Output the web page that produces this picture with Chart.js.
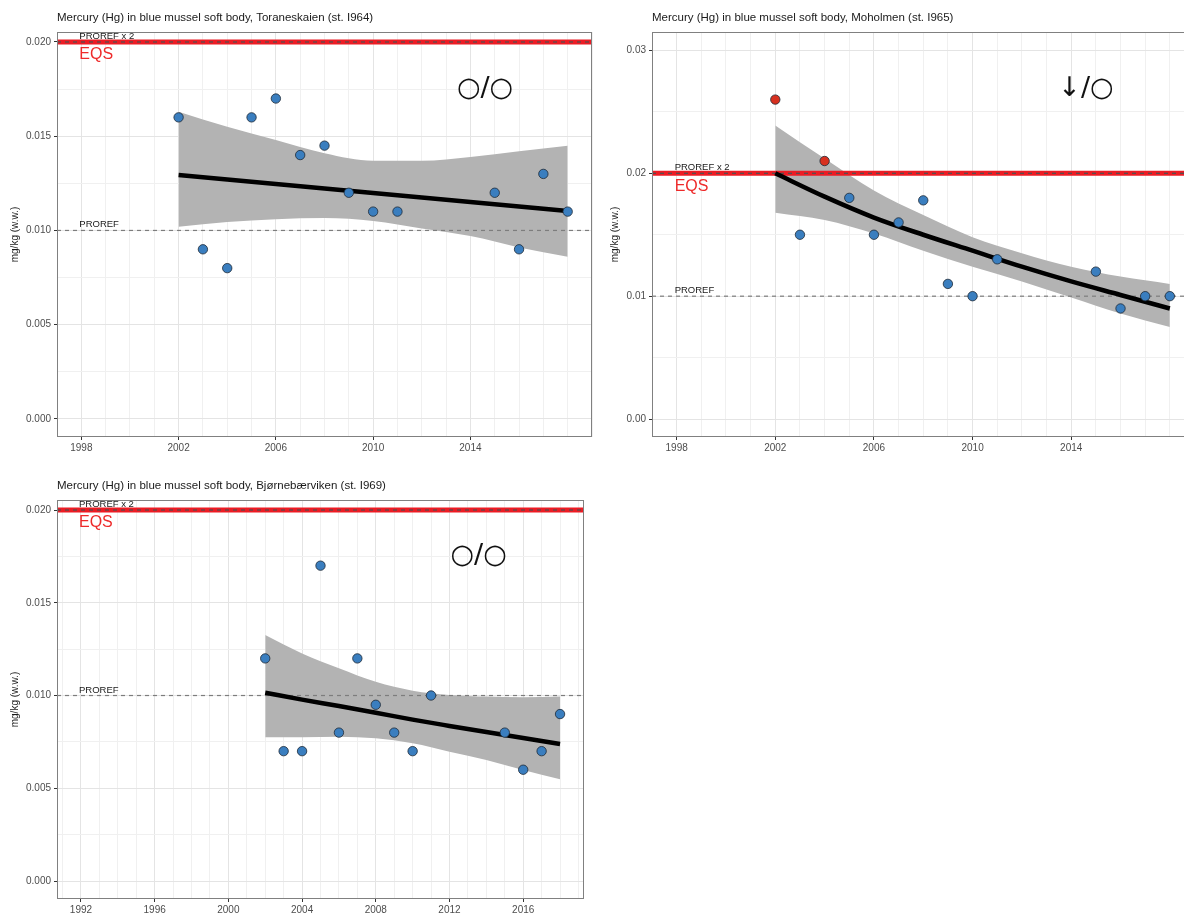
<!DOCTYPE html>
<html>
<head>
<meta charset="utf-8">
<script src="https://cdn.jsdelivr.net/npm/chart.js@4.4.0/dist/chart.umd.min.js"></script>
<style>
  html, body { margin: 0; padding: 0; background: #fff; overflow: hidden; width: 1184px; height: 913px; }
  canvas { position: absolute; display: block; }
</style>
</head>
<body>
<canvas id="toraneskaien" width="600" height="460" style="left:0;top:0"></canvas>
<canvas id="moholmen" width="600" height="460" style="left:600px;top:0"></canvas>
<canvas id="bjornebaerviken" width="600" height="460" style="left:0;top:468px"></canvas>
<script>
// ---- Toraneskaien (st. I964) ----
const yearsA = [2002, 2003, 2004, 2005, 2006, 2007, 2008, 2009, 2010, 2011, 2015, 2016, 2017, 2018];
const hgA    = [0.016, 0.009, 0.008, 0.016, 0.017, 0.014, 0.0145, 0.012, 0.011, 0.011, 0.012, 0.009, 0.013, 0.011];
const fitYearsA = [2002, 2004, 2006, 2008, 2010, 2012, 2014, 2016, 2018];
const fitA   = [0.01294, 0.0127, 0.01246, 0.01222, 0.01199, 0.01175, 0.01151, 0.01127, 0.01103];
const upperA = [0.0163, 0.0155, 0.0148, 0.0141, 0.0137, 0.0137, 0.0139, 0.0142, 0.0145];
const lowerA = [0.0102, 0.01045, 0.0106, 0.01066, 0.0105, 0.0101, 0.0097, 0.0091, 0.0086];
const xLabelsA = [1998, 2002, 2006, 2010, 2014];
const yLabelsA = [0, 0.005, 0.010, 0.015, 0.020];

// ---- Moholmen (st. I965) ----
const yearsB = [2002, 2003, 2004, 2005, 2006, 2007, 2008, 2009, 2010, 2011, 2015, 2016, 2017, 2018];
const hgB    = [0.026, 0.015, 0.021, 0.018, 0.015, 0.016, 0.0178, 0.011, 0.010, 0.013, 0.012, 0.009, 0.010, 0.010];
const fitYearsB = [2002, 2004, 2006, 2008, 2010, 2012, 2014, 2016, 2018];
const fitB   = [0.0200, 0.0181, 0.0164, 0.0150, 0.0137, 0.0124, 0.0112, 0.0101, 0.0090];
const upperB = [0.0239, 0.0212, 0.0186, 0.0166, 0.0148, 0.0135, 0.0124, 0.0116, 0.0110];
const lowerB = [0.0168, 0.0162, 0.0151, 0.0137, 0.0124, 0.0112, 0.0099, 0.0086, 0.0075];
const xLabelsB = [1998, 2002, 2006, 2010, 2014];
const yLabelsB = [0, 0.01, 0.02, 0.03];

// ---- Bjørnebærviken (st. I969) ----
const yearsC = [2002, 2003, 2004, 2005, 2006, 2007, 2008, 2009, 2010, 2011, 2015, 2016, 2017, 2018];
const hgC    = [0.012, 0.007, 0.007, 0.017, 0.008, 0.012, 0.0095, 0.008, 0.007, 0.010, 0.008, 0.006, 0.007, 0.009];
const fitYearsC = [2002, 2004, 2006, 2008, 2010, 2012, 2014, 2016, 2018];
const fitC   = [0.01015, 0.00978, 0.00943, 0.00907, 0.0087, 0.00836, 0.00803, 0.00771, 0.00739];
const upperC = [0.01326, 0.01227, 0.01147, 0.01074, 0.01026, 0.01003, 0.00994, 0.0099, 0.00994];
const lowerC = [0.00775, 0.00775, 0.00778, 0.00769, 0.00742, 0.00697, 0.00652, 0.00598, 0.00548];
const xLabelsC = [1992, 1996, 2000, 2004, 2008, 2012, 2016];
const yLabelsC = [0, 0.005, 0.010, 0.015, 0.020];

// Reference levels (mg/kg w.w.)
const PROREF = 0.010;
const EQS = 0.020;

const FONT = '"Liberation Sans", Arial, Helvetica, sans-serif';
Chart.defaults.font.family = FONT;
Chart.defaults.animation = false;

// Reference lines, labels, trend symbol, panel border and title
const panelDecor = {
  id: 'panelDecor',
  beforeDatasetDraw(chart, args, opts) {
    if (args.index !== 1) return;           // just below the trend line
    const { ctx, chartArea: a, scales: { y } } = chart;
    ctx.save();
    ctx.beginPath(); ctx.rect(a.left, a.top, a.width, a.height); ctx.clip();
    const yE = y.getPixelForValue(EQS);
    const yP2 = y.getPixelForValue(2 * PROREF);
    const yP = y.getPixelForValue(PROREF);
    // EQS: thick red
    ctx.strokeStyle = '#ec1c24'; ctx.lineWidth = 5;
    ctx.beginPath(); ctx.moveTo(a.left, yE); ctx.lineTo(a.right, yE); ctx.stroke();
    // PROREF x 2: dark dashed
    ctx.setLineDash([4, 4]); ctx.strokeStyle = '#505050'; ctx.lineWidth = 1.2;
    ctx.beginPath(); ctx.moveTo(a.left, yP2); ctx.lineTo(a.right, yP2); ctx.stroke();
    // PROREF: grey dashed
    ctx.strokeStyle = '#7d7d7d';
    ctx.beginPath(); ctx.moveTo(a.left, yP); ctx.lineTo(a.right, yP); ctx.stroke();
    ctx.restore();
  },
  afterDatasetsDraw(chart, args, opts) {
    const { ctx, chartArea: a, scales: { x, y } } = chart;
    ctx.save();
    ctx.beginPath(); ctx.rect(a.left, a.top, a.width, a.height); ctx.clip();
    const lx = x.getPixelForValue(opts.labelYear) - 2;
    ctx.textAlign = 'left';
    ctx.textBaseline = 'alphabetic';
    ctx.fillStyle = '#1a1a1a';
    ctx.font = '9.5px ' + FONT;
    ctx.fillText('PROREF x 2', lx, y.getPixelForValue(2 * PROREF) - 3);
    ctx.fillText('PROREF', lx, y.getPixelForValue(PROREF) - 3);
    ctx.fillStyle = '#ee2a2a';
    ctx.font = '16px ' + FONT;
    ctx.textBaseline = 'middle';
    ctx.fillText('EQS', lx, y.getPixelForValue(EQS) + 13);
    // trend symbol
    ctx.fillStyle = '#111';
    ctx.textAlign = 'center';
    ctx.font = '27px "DejaVu Sans", ' + FONT;
    ctx.fillText(opts.symbol, a.left + 0.8 * a.width, a.top + 0.14 * a.height);
    ctx.restore();
    // panel border
    ctx.save();
    ctx.strokeStyle = '#808080'; ctx.lineWidth = 1;
    ctx.strokeRect(a.left + 0.5, a.top + 0.5, a.width - 1, a.height - 1);
    // title
    ctx.fillStyle = '#1a1a1a';
    ctx.font = '11.5px ' + FONT;
    ctx.textAlign = 'left'; ctx.textBaseline = 'middle';
    ctx.fillText(opts.title, a.left, a.top - 14);
    ctx.restore();
  }
};

function toPoints(xs, ys) { return xs.map((v, i) => ({ x: v, y: ys[i] })); }

function makePanel(id, cfg) {
  const isLabX = v => cfg.xLabels.includes(v);
  const isLabY = v => cfg.yLabels.some(t => Math.abs(t - v) < 1e-9);
  new Chart(document.getElementById(id), {
    type: 'scatter',
    data: {
      datasets: [
        {
          label: 'Hg', data: toPoints(cfg.years, cfg.values),
          pointRadius: 4.7, pointHoverRadius: 4.7,
          pointBackgroundColor: c => (c.raw && c.raw.y > EQS) ? '#d7301f' : '#3a7ebf',
          pointBorderColor: '#1e2a36', pointBorderWidth: 0.8
        },
        {
          type: 'line', label: 'Trend', data: toPoints(cfg.fitYears, cfg.fit),
          borderColor: '#000', borderWidth: 4.5, pointRadius: 0, fill: false,
          cubicInterpolationMode: 'monotone'
        },
        {
          type: 'line', label: 'Upper', data: toPoints(cfg.fitYears, cfg.upper),
          borderWidth: 0, borderColor: 'rgba(0,0,0,0)', pointRadius: 0,
          fill: '+1', backgroundColor: '#b3b3b3', cubicInterpolationMode: 'monotone'
        },
        {
          type: 'line', label: 'Lower', data: toPoints(cfg.fitYears, cfg.lower),
          borderWidth: 0, borderColor: 'rgba(0,0,0,0)', pointRadius: 0,
          fill: false, cubicInterpolationMode: 'monotone'
        }
      ]
    },
    options: {
      responsive: false,
      devicePixelRatio: 1,
      layout: { padding: { left: 0, top: 32, right: cfg.padRight, bottom: 0 } },
      plugins: {
        legend: { display: false },
        tooltip: { enabled: false },
        panelDecor: { title: cfg.title, symbol: cfg.symbol, labelYear: cfg.xLabels[0] }
      },
      scales: {
        x: {
          type: 'linear', min: cfg.xMin, max: cfg.xMax,
          afterBuildTicks: axis => {
            const t = [];
            for (let v = Math.ceil(cfg.xMin); v <= Math.floor(cfg.xMax); v++) t.push({ value: v });
            axis.ticks = t;
          },
          afterFit: axis => { axis.height = cfg.xAxisH; },
          ticks: {
            autoSkip: false, maxRotation: 0, minRotation: 0, padding: 2,
            color: '#4d4d4d', font: { size: 10 },
            callback: v => isLabX(v) ? String(v) : ''
          },
          grid: {
            color: c => isLabX(c.tick.value) ? '#e4e4e4' : '#f0f0f0',
            lineWidth: 1, tickLength: 3,
            tickColor: c => isLabX(c.tick.value) ? '#333' : 'rgba(0,0,0,0)'
          },
          border: { display: false }
        },
        y: {
          type: 'linear', min: cfg.yMin, max: cfg.yMax,
          afterBuildTicks: axis => {
            const t = [];
            const ys = cfg.yLabels;
            for (let i = 0; i < ys.length; i++) {
              t.push({ value: ys[i] });
              if (i < ys.length - 1) t.push({ value: (ys[i] + ys[i + 1]) / 2 });
            }
            axis.ticks = t;
          },
          afterFit: axis => { axis.width = cfg.yAxisW; },
          ticks: {
            padding: 3, color: '#4d4d4d', font: { size: 10 },
            callback: v => isLabY(v) ? v.toFixed(cfg.yDigits) : ''
          },
          grid: {
            color: c => isLabY(c.tick.value) ? '#e4e4e4' : '#f0f0f0',
            lineWidth: 1, tickLength: 3,
            tickColor: c => isLabY(c.tick.value) ? '#333' : 'rgba(0,0,0,0)'
          },
          border: { display: false },
          title: {
            display: true, text: 'mg/kg (w.w.)', color: '#1a1a1a',
            font: { size: 10 }, padding: { top: 9, bottom: 0 }
          }
        }
      }
    },
    plugins: [panelDecor]
  });
}

makePanel('toraneskaien', {
  title: 'Mercury (Hg) in blue mussel soft body, Toraneskaien (st. I964)',
  symbol: '○/○',
  years: yearsA, values: hgA, fitYears: fitYearsA, fit: fitA, upper: upperA, lower: lowerA,
  xLabels: xLabelsA, yLabels: yLabelsA, yDigits: 3,
  xMin: 1997, xMax: 2019, yMin: -0.00096, yMax: 0.02053,
  yAxisW: 57, xAxisH: 23, padRight: 8
});

makePanel('moholmen', {
  title: 'Mercury (Hg) in blue mussel soft body, Moholmen (st. I965)',
  symbol: '↓/○',
  years: yearsB, values: hgB, fitYears: fitYearsB, fit: fitB, upper: upperB, lower: lowerB,
  xLabels: xLabelsB, yLabels: yLabelsB, yDigits: 2,
  xMin: 1997, xMax: 2019, yMin: -0.00146, yMax: 0.0315,
  yAxisW: 52, xAxisH: 23, padRight: 3
});

makePanel('bjornebaerviken', {
  title: 'Mercury (Hg) in blue mussel soft body, Bjørnebærviken (st. I969)',
  symbol: '○/○',
  years: yearsC, values: hgC, fitYears: fitYearsC, fit: fitC, upper: upperC, lower: lowerC,
  xLabels: xLabelsC, yLabels: yLabelsC, yDigits: 3,
  xMin: 1990.7, xMax: 2019.3, yMin: -0.00097, yMax: 0.02054,
  yAxisW: 57, xAxisH: 29, padRight: 16
});
</script>
</body>
</html>
